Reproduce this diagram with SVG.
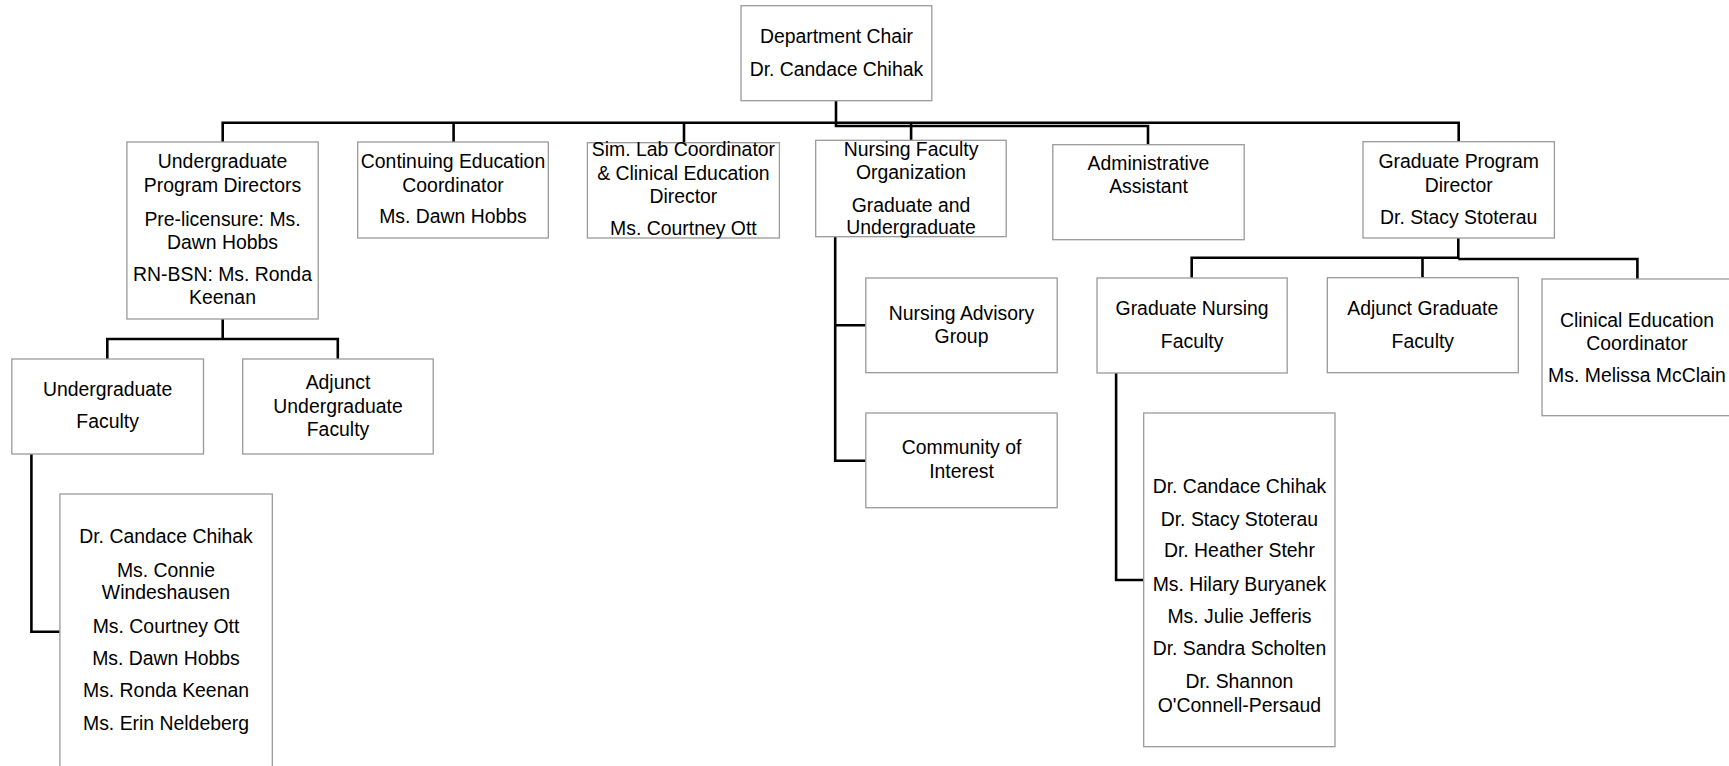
<svg xmlns="http://www.w3.org/2000/svg" width="1729" height="766" viewBox="0 0 1729 766">
<style>
.box{fill:#fff;stroke:#9a9a9a;stroke-width:1.3}
.t{font-family:"Liberation Sans",Arial,sans-serif;font-size:19.4px;fill:#000;text-anchor:middle}
.c{fill:none;stroke:#000;stroke-width:2.6}
</style>
<rect width="1729" height="766" fill="#fff"/>
<g id="connectors">
<path class="c" d="M836,100.7V123M222.7,142V122.7H1458.7V141.7M453.6,122.7V142M684,122.7V142.7M911.1,122.7V140.3"/>
<path class="c" d="M836,123V126H1148V144.7"/>
<path class="c" d="M222.7,319V339M107.3,359V339H337.8V359"/>
<path class="c" d="M31.4,454V631.7H59.9"/>
<path class="c" d="M835.2,236.7V460.7H865.8M835.2,325.3H865.8"/>
<path class="c" d="M1458.3,238V258.5M1191.7,277.7V257.7H1458.3M1458.3,259H1637.4V279.3M1422.5,257.7V277.7"/>
<path class="c" d="M1116.1,373V580H1143.7"/>
</g>
<g id="chair"><rect class="box" x="741" y="5.7" width="190.8" height="95"/>
<text class="t" x="836.4" y="43.3">Department Chair</text><text class="t" x="836.4" y="76">Dr. Candace Chihak</text></g>
<g id="ugpd"><rect class="box" x="126.9" y="142" width="191.3" height="177"/>
<text class="t" x="222.5" y="168">Undergraduate</text><text class="t" x="222.5" y="192">Program Directors</text>
<text class="t" x="222.5" y="226">Pre-licensure: Ms.</text><text class="t" x="222.5" y="249">Dawn Hobbs</text>
<text class="t" x="222.5" y="281">RN-BSN: Ms. Ronda</text><text class="t" x="222.5" y="304">Keenan</text></g>
<g id="ce"><rect class="box" x="357.7" y="142" width="190.6" height="96"/>
<text class="t" x="453" y="168.3">Continuing Education</text><text class="t" x="453" y="191.7">Coordinator</text><text class="t" x="453" y="223.3">Ms. Dawn Hobbs</text></g>
<g id="simlab"><rect class="box" x="587.4" y="142.7" width="192" height="95.3"/>
<text class="t" x="683.4" y="156">Sim. Lab Coordinator</text><text class="t" x="683.4" y="180">&amp; Clinical Education</text>
<text class="t" x="683.4" y="203.3">Director</text><text class="t" x="683.4" y="235">Ms. Courtney Ott</text></g>
<g id="nfo"><rect class="box" x="815.7" y="140.3" width="190.5" height="96.4"/>
<text class="t" x="911" y="156">Nursing Faculty</text><text class="t" x="911" y="179">Organization</text>
<text class="t" x="911" y="211.7">Graduate and</text><text class="t" x="911" y="234.3">Undergraduate</text></g>
<g id="admin"><rect class="box" x="1052.8" y="144.7" width="191.4" height="95"/>
<text class="t" x="1148.5" y="170">Administrative</text><text class="t" x="1148.5" y="193">Assistant</text></g>
<g id="gpd"><rect class="box" x="1363" y="141.7" width="191.4" height="96.3"/>
<text class="t" x="1458.7" y="168.3">Graduate Program</text><text class="t" x="1458.7" y="191.7">Director</text><text class="t" x="1458.7" y="224">Dr. Stacy Stoterau</text></g>
<g id="uf"><rect class="box" x="11.8" y="359" width="191.7" height="95"/>
<text class="t" x="107.6" y="395.7">Undergraduate</text><text class="t" x="107.6" y="428.3">Faculty</text></g>
<g id="auf"><rect class="box" x="242.7" y="359" width="190.5" height="95"/>
<text class="t" x="338" y="389">Adjunct</text><text class="t" x="338" y="412.7">Undergraduate</text><text class="t" x="338" y="436">Faculty</text></g>
<g id="uflist"><rect class="box" x="59.9" y="494" width="212.4" height="280"/>
<text class="t" x="166" y="543.3">Dr. Candace Chihak</text><text class="t" x="166" y="576.7">Ms. Connie</text>
<text class="t" x="166" y="599.3">Windeshausen</text><text class="t" x="166" y="632.7">Ms. Courtney Ott</text>
<text class="t" x="166" y="665">Ms. Dawn Hobbs</text><text class="t" x="166" y="697.3">Ms. Ronda Keenan</text>
<text class="t" x="166" y="730">Ms. Erin Neldeberg</text></g>
<g id="nag"><rect class="box" x="865.8" y="278" width="191.4" height="94.7"/>
<text class="t" x="961.5" y="320">Nursing Advisory</text><text class="t" x="961.5" y="342.7">Group</text></g>
<g id="coi"><rect class="box" x="865.8" y="413" width="191.4" height="94.7"/>
<text class="t" x="961.5" y="454.3">Community of</text><text class="t" x="961.5" y="478.3">Interest</text></g>
<g id="gnf"><rect class="box" x="1097" y="278" width="190.2" height="95"/>
<text class="t" x="1192.1" y="315">Graduate Nursing</text><text class="t" x="1192.1" y="348.3">Faculty</text></g>
<g id="agf"><rect class="box" x="1327.3" y="277.7" width="191" height="95"/>
<text class="t" x="1422.8" y="315">Adjunct Graduate</text><text class="t" x="1422.8" y="348.3">Faculty</text></g>
<g id="cec"><rect class="box" x="1542" y="279" width="190" height="136.7"/>
<text class="t" x="1637" y="327.3">Clinical Education</text><text class="t" x="1637" y="350">Coordinator</text><text class="t" x="1637" y="381.7">Ms. Melissa McClain</text></g>
<g id="gnflist"><rect class="box" x="1143.7" y="413" width="191.3" height="333.7"/>
<text class="t" x="1239.4" y="493.3">Dr. Candace Chihak</text><text class="t" x="1239.4" y="526">Dr. Stacy Stoterau</text>
<text class="t" x="1239.4" y="557.3">Dr. Heather Stehr</text><text class="t" x="1239.4" y="590.7">Ms. Hilary Buryanek</text>
<text class="t" x="1239.4" y="622.7">Ms. Julie Jefferis</text><text class="t" x="1239.4" y="655">Dr. Sandra Scholten</text>
<text class="t" x="1239.4" y="688.3">Dr. Shannon</text><text class="t" x="1239.4" y="711.7">O'Connell-Persaud</text></g>
</svg>
